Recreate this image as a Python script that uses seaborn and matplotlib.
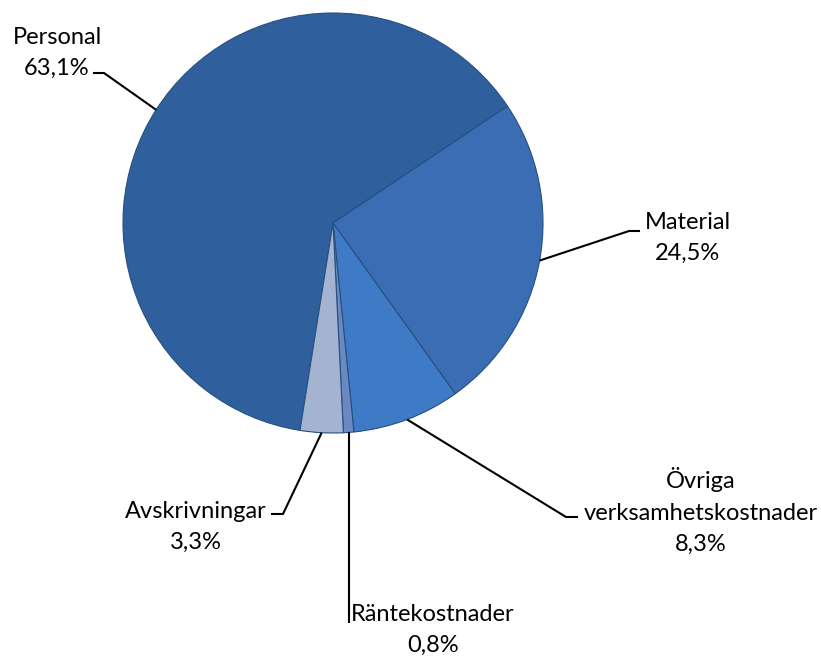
import numpy as np
import matplotlib
matplotlib.use("Agg")
import matplotlib.pyplot as plt
import seaborn as sns

# kostnadsfördelning (andel i procent)
categories = ["Personal", "Material", "Övriga\nverksamhetskostnader", "Räntekostnader", "Avskrivningar"]
shares = [63.1, 24.5, 8.3, 0.8, 3.3]
share_labels = ["63,1%", "24,5%", "8,3%", "0,8%", "3,3%"]
colors = ["#305F9E", "#3A6DB4", "#3E7AC6", "#6A88C2", "#A4B3D2"]

sns.set_theme(style="white")
plt.rcParams["font.family"] = ["Lato", "DejaVu Sans"]

W, H = 821, 659
fig = plt.figure(figsize=(W / 100, H / 100), dpi=100)
ax = fig.add_axes([0, 0, 1, 1])

cx, cy, r = 333, H - 223, 210
start = 33.8 + shares[0] * 3.6
wedges, _ = ax.pie(shares, colors=colors, startangle=start, counterclock=False,
                   center=(cx, cy), radius=r,
                   wedgeprops=dict(edgecolor="#27507f", linewidth=0.8))
ax.set_xlim(0, W)
ax.set_ylim(0, H)
ax.set_aspect("equal")
ax.axis("off")

# label layout: text centre, elbow point, line end (pixels from top-left)
# None as x means: straight down from the rim point
label_pos = [(57, 53), (688, 238), (701, 511), (433, 630), (196, 527)]
elbows = [[(104, 73), (93, 73)],
          [(629, 231), (640, 231)],
          [(566, 517), (578, 517)],
          [(None, 623)],
          [(283, 514), (271, 514)]]

for w, cat, lab, pos, elb in zip(wedges, categories, share_labels, label_pos, elbows):
    mid = np.deg2rad((w.theta1 + w.theta2) / 2)
    x0, y0 = cx + r * np.cos(mid), cy + r * np.sin(mid)
    xs = [x0] + [x0 if p[0] is None else p[0] for p in elb]
    ys = [y0] + [H - p[1] for p in elb]
    ax.plot(xs, ys, color="black", lw=1.5, solid_capstyle="butt")
    ax.text(pos[0], H - pos[1], cat + "\n" + lab, ha="center", va="center",
            fontsize=17, linespacing=1.6, color="black")

fig.savefig("out.png", dpi=100)
